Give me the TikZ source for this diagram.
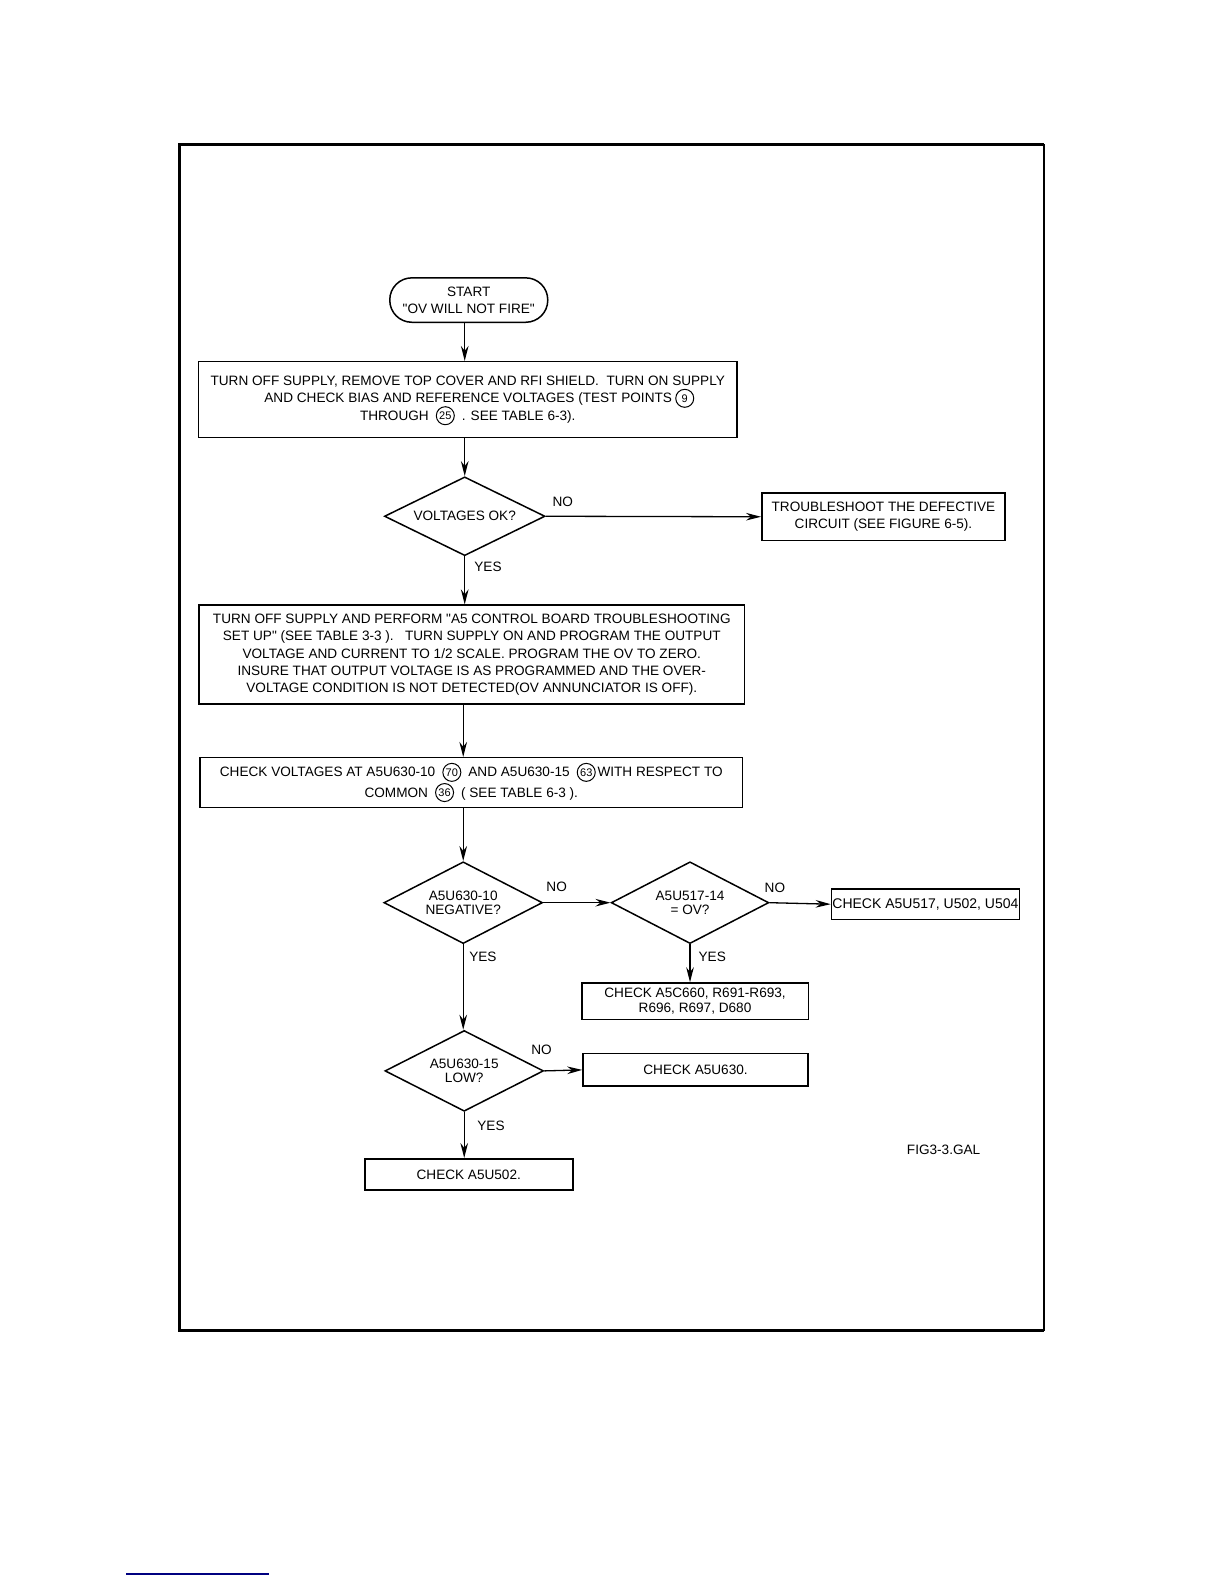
\documentclass[tikz,border=0pt]{standalone}
\usepackage{fontspec}
\usepackage{pict2e}
\setmainfont{Liberation Sans}[Ligatures=TeXOff]
\usetikzlibrary{shapes.geometric,arrows.meta}
\definecolor{linkblue}{RGB}{0,0,128}
\newcommand\cn[1]{{\setlength\unitlength{1pt}\linethickness{0.5pt}\begin{picture}(9,6)\put(4.5,2.3){\circle{9}}\put(4.5,2.3){\makebox(0,0){\fontsize{5.5}{6}\selectfont #1}}\end{picture}}}
\tikzset{
  txt/.style={font=\fontsize{6.8}{8.7}\selectfont},
  box/.style={txt,draw,line width=0.75pt,rectangle,inner sep=0pt,align=center},
  dec/.style={draw,diamond,aspect=2,line width=0.75pt,inner sep=0pt,align=center,font=\fontsize{6.8}{7.1}\selectfont},
  term/.style={txt,draw,line width=0.75pt,rounded corners=11pt,inner sep=0pt,align=center},
  lbl/.style={txt,inner sep=0pt},
  arr/.style={-{Stealth[length=7.5pt,width=3.8pt]},line width=0.65pt},
  frame/.style={line width=1.4pt},
}
\begin{document}
\begin{tikzpicture}[x=0.50515pt,y=-0.50515pt]
\useasboundingbox (0,0) rectangle (1211.5,1567.9);
% frame
\coordinate (tl) at (178,143);
\coordinate (tr) at (1033,143);
\coordinate (bl) at (178,1317);
\coordinate (br) at (1033,1317);
\draw[frame] (tr) -- (tl) -- (bl) -- (br);
\draw[line width=1pt] (tr) -- (br);
% nodes
\node[term,minimum width=79pt,minimum height=22.2pt] (start) at (464,297) {START\\"OV WILL NOT FIRE"};
\node[box,minimum width=269.5pt,minimum height=37.9pt] (b1) at (463,395.5)
  {TURN OFF SUPPLY, REMOVE TOP COVER AND RFI SHIELD.\ \ TURN ON SUPPLY\\
   \ \ \ \ \ \ AND CHECK BIAS AND REFERENCE VOLTAGES (TEST POINTS \cn{9}\\
   THROUGH \ \cn{25}\ \ . SEE TABLE 6-3).};
\node[dec,minimum width=80.3pt,minimum height=39.4pt] (d1) at (460,511) {VOLTAGES OK?};
\node[box,minimum width=121.7pt,minimum height=23.7pt] (tb) at (874.5,511.5)
  {TROUBLESHOOT THE DEFECTIVE\\CIRCUIT (SEE FIGURE 6-5).};
\node[box,minimum width=272.8pt,minimum height=49.5pt] (b2) at (467,648)
  {TURN OFF SUPPLY AND PERFORM "A5 CONTROL BOARD TROUBLESHOOTING\\
   SET UP" (SEE TABLE 3-3 ).\ \ \ TURN SUPPLY ON AND PROGRAM THE OUTPUT\\
   VOLTAGE AND CURRENT TO 1/2 SCALE. PROGRAM THE OV TO ZERO.\\
   INSURE THAT OUTPUT VOLTAGE IS AS PROGRAMMED AND THE OVER-\\
   VOLTAGE CONDITION IS NOT DETECTED(OV ANNUNCIATOR IS OFF).};
\node[box,minimum width=271.3pt,minimum height=24.8pt,font=\fontsize{6.8}{10.1}\selectfont] (b3) at (466.5,774.5)
  {CHECK VOLTAGES AT A5U630-10 \ \cn{70} \ AND A5U630-15 \ \cn{63}\,WITH RESPECT TO\\
   COMMON \ \cn{36} \ ( SEE TABLE 6-3 ).};
\node[dec,minimum width=79.3pt,minimum height=40.9pt] (d2) at (458.5,893.5) {A5U630-10\\NEGATIVE?};
\node[dec,minimum width=78.8pt,minimum height=40.9pt] (d3) at (683,893.5) {A5U517-14\\= OV?};
\node[box,minimum width=94pt,minimum height=15.2pt,font=\fontsize{7}{8}\selectfont] (c1) at (916,895) {CHECK A5U517, U502, U504};
\node[box,minimum width=113.2pt,minimum height=18.2pt,font=\fontsize{6.8}{7.1}\selectfont] (c2) at (688,991) {CHECK A5C660, R691-R693,\\R696, R697, D680};
\node[dec,minimum width=79.3pt,minimum height=40.4pt] (d4) at (459.5,1060) {A5U630-15\\LOW?};
\node[box,minimum width=112.6pt,minimum height=16.2pt] (c3) at (688.5,1059) {CHECK A5U630.};
\node[box,minimum width=104pt,minimum height=15.7pt] (c4) at (464,1162.5) {CHECK A5U502.};
% labels
\node[lbl] (n1) at (557,497) {NO};
\node[lbl] (y1) at (483,561) {YES};
\node[lbl] (n2) at (551,878) {NO};
\node[lbl] (n3) at (767,879) {NO};
\node[lbl] (y3) at (705,947) {YES};
\node[lbl] (y2) at (478,947) {YES};
\node[lbl] (n4) at (536,1039) {NO};
\node[lbl] (y4) at (486,1114) {YES};
\node[lbl] (fig) at (934,1138) {FIG3-3.GAL};
% connectors
\draw[arr] (start.south -| d1.north) -- (d1.north |- b1.north);
\draw[arr] (d1.north |- b1.south) -- (d1.north);
\draw[arr] (d1.east) -- (tb.west);
\draw[arr] (d1.south) -- (d1.south |- b2.north);
\draw[arr] (d2.north |- b2.south) -- (d2.north |- b3.north);
\draw[arr] (d2.north |- b3.south) -- (d2.north);
\draw[arr] (d2.east) -- (d3.west);
\draw[arr] (d3.east) -- (c1.west);
\draw[arr] (d3.south) -- (d3.south |- c2.north);
\draw[arr] (d2.south) -- (d2.south |- d4.north);
\draw[arr] (d4.east) -- (c3.west);
\draw[arr] (d4.south) -- (d4.south |- c4.north);
% link underline
\coordinate (u1) at (125,1558);
\coordinate (u2) at (266,1558);
\draw[linkblue,line width=0.6pt] (u1) -- (u2);
\end{tikzpicture}
\end{document}
